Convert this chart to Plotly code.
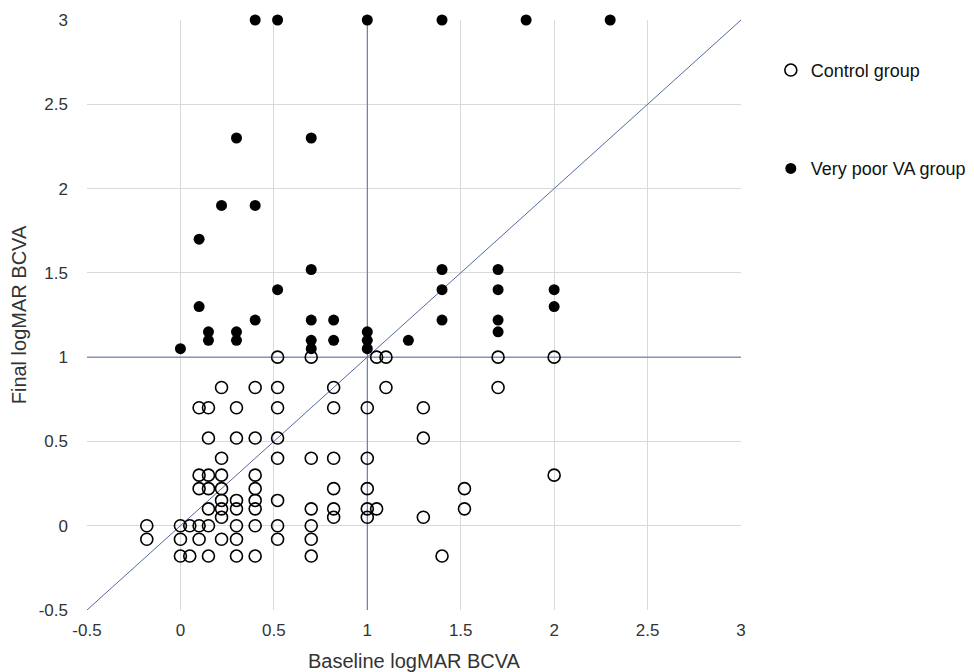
import plotly.graph_objects as go

# Control group (open circles): baseline, final logMAR BCVA
control_x = [0.52, 0.7, 1.05, 1.1, 1.7, 2.0,
             0.22, 0.4, 0.52, 0.82, 1.1, 1.7,
             0.1, 0.15, 0.3, 0.52, 0.82, 1.0, 1.3,
             0.15, 0.3, 0.4, 0.52, 1.3,
             0.22, 0.52, 0.7, 0.82, 1.0,
             0.1, 0.15, 0.22, 0.4, 2.0,
             0.1, 0.15, 0.22, 0.4, 0.82, 1.0, 1.52,
             0.22, 0.3, 0.4, 0.52,
             0.15, 0.22, 0.3, 0.4, 0.7, 0.82, 1.0, 1.05, 1.52,
             0.22, 0.82, 1.0, 1.3,
             -0.18, 0.0, 0.05, 0.1, 0.15, 0.3, 0.4, 0.52, 0.7,
             -0.18, 0.0, 0.1, 0.22, 0.3, 0.52, 0.7,
             0.0, 0.05, 0.15, 0.3, 0.4, 0.7, 1.4]
control_y = [1.0] * 6 + [0.82] * 6 + [0.7] * 7 + [0.52] * 5 + [0.4] * 5 + \
            [0.3] * 5 + [0.22] * 7 + [0.15] * 4 + [0.1] * 9 + [0.05] * 4 + \
            [0.0] * 9 + [-0.08] * 7 + [-0.18] * 7

# Very poor VA group (filled circles)
poor_x = [0.4, 0.52, 1.0, 1.4, 1.85, 2.3,
          0.3, 0.7,
          0.22, 0.4,
          0.1,
          0.7, 1.4, 1.7,
          0.52, 1.4, 1.7, 2.0,
          0.1, 2.0,
          0.4, 0.7, 0.82, 1.4, 1.7,
          0.15, 0.3, 1.0, 1.7,
          0.15, 0.3, 0.7, 0.82, 1.0, 1.22,
          0.0, 0.7, 1.0]
poor_y = [3.0] * 6 + [2.3] * 2 + [1.9] * 2 + [1.7] + [1.52] * 3 + [1.4] * 4 + \
         [1.3] * 2 + [1.22] * 5 + [1.15] * 4 + [1.1] * 6 + [1.05] * 3

# Reference lines
diag_x = [-0.5, 3.0]
diag_y = [-0.5, 3.0]
vline_x = [1.0, 1.0]
vline_y = [-0.5, 3.0]
hline_x = [-0.5, 3.0]
hline_y = [1.0, 1.0]

axis_range = [-0.5, 3.0]
tick_vals = [-0.5, 0, 0.5, 1, 1.5, 2, 2.5, 3]
tick_text = ["-0.5", "0", "0.5", "1", "1.5", "2", "2.5", "3"]

line_color = "#55699c"
text_color = "#333333"
font_family = "Liberation Sans, Arial, sans-serif"

fig = go.Figure()
for lx, ly in [(diag_x, diag_y), (vline_x, vline_y), (hline_x, hline_y)]:
    fig.add_trace(go.Scatter(x=lx, y=ly, mode="lines",
                             line=dict(color=line_color, width=1),
                             showlegend=False, hoverinfo="skip"))

fig.add_trace(go.Scatter(
    x=control_x, y=control_y, mode="markers", name="Control group",
    marker=dict(symbol="circle-open", size=12, color="black",
                line=dict(width=1.6, color="black")),
    cliponaxis=False, legendgroup="a"))
fig.add_trace(go.Scatter(
    x=poor_x, y=poor_y, mode="markers", name="Very poor VA group",
    marker=dict(symbol="circle", size=11, color="black"),
    cliponaxis=False, legendgroup="b"))

axis_common = dict(
    range=axis_range, tickvals=tick_vals, ticktext=tick_text,
    showgrid=True, gridcolor="#d9d9d9", gridwidth=1,
    zeroline=False, showline=False, ticks="", automargin=False,
    tickfont=dict(family=font_family, size=17, color=text_color),
)

fig.update_layout(
    width=974, height=664,
    margin=dict(l=79, r=240, t=12, b=62),
    plot_bgcolor="white", paper_bgcolor="white",
    font=dict(family=font_family, size=17, color=text_color),
    xaxis=dict(**axis_common, ticklabelstandoff=8,
               title=dict(text="Baseline logMAR BCVA",
                          font=dict(size=20, color=text_color), standoff=16)),
    yaxis=dict(**axis_common, ticklabelstandoff=18,
               title=dict(text="Final logMAR BCVA",
                          font=dict(size=20, color=text_color), standoff=8)),
    legend=dict(x=1.044, y=0.946, xanchor="left", yanchor="top",
                tracegroupgap=72, itemwidth=30,
                font=dict(family=font_family, size=18, color="#111111")),
    showlegend=True,
)

fig.write_html("out.html")
